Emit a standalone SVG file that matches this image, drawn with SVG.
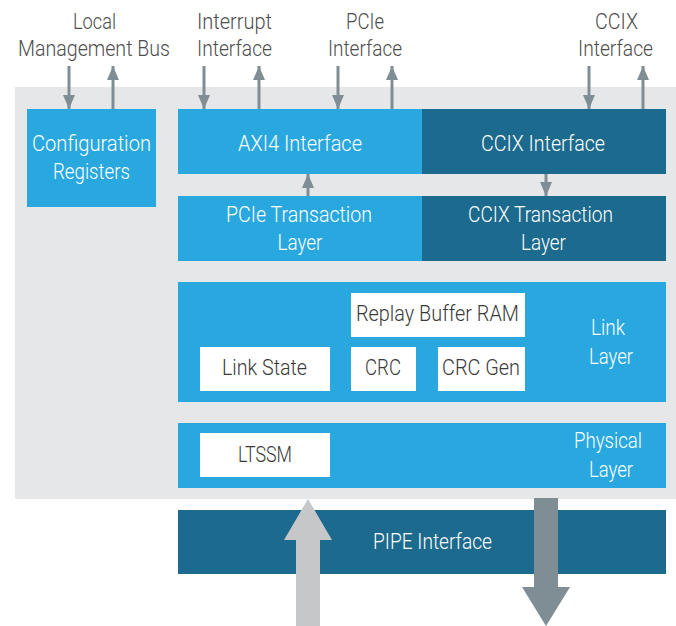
<svg xmlns="http://www.w3.org/2000/svg" width="676" height="626" viewBox="0 0 676 626">
<defs>
<marker id="ah" viewBox="0 0 14 12" refX="14" refY="6" markerWidth="14" markerHeight="12" markerUnits="userSpaceOnUse" orient="auto">
<path d="M0,0 L14,6 L0,12 Z" fill="#7f8e95"/>
</marker>
</defs>
<style>
text{font-family:Roboto,"Liberation Sans",sans-serif;font-size:22px;font-weight:300;text-anchor:middle}
.lbl{fill:#4d4d4d}
.w{fill:#ffffff}
.d{fill:#3a3a3a}
.lb{fill:#29a8e0}
.db{fill:#1c6a8e}
.wb{fill:#ffffff}
.c line{stroke:#7f8e95;stroke-width:3;marker-end:url(#ah)}
</style>
<rect x="15" y="87" width="661" height="412" fill="#e6e7e8"/>
<g id="labels">
<text class="lbl" x="94.5" y="29" textLength="43" lengthAdjust="spacingAndGlyphs">Local</text>
<text class="lbl" x="94" y="56" textLength="152" lengthAdjust="spacingAndGlyphs">Management Bus</text>
<text class="lbl" x="234.5" y="29" textLength="75" lengthAdjust="spacingAndGlyphs">Interrupt</text>
<text class="lbl" x="234.5" y="56" textLength="75" lengthAdjust="spacingAndGlyphs">Interface</text>
<text class="lbl" x="365" y="29" textLength="38" lengthAdjust="spacingAndGlyphs">PCIe</text>
<text class="lbl" x="365" y="56" textLength="74" lengthAdjust="spacingAndGlyphs">Interface</text>
<text class="lbl" x="616.5" y="29" textLength="43" lengthAdjust="spacingAndGlyphs">CCIX</text>
<text class="lbl" x="615.5" y="56" textLength="75" lengthAdjust="spacingAndGlyphs">Interface</text>
</g>
<g id="config">
<rect class="lb" x="27" y="109" width="129" height="98"/>
<text class="w" x="91.5" y="151" textLength="119" lengthAdjust="spacingAndGlyphs">Configuration</text>
<text class="w" x="91.5" y="179" textLength="77" lengthAdjust="spacingAndGlyphs">Registers</text>
</g>
<g id="axi4">
<rect class="lb" x="178" y="109" width="244" height="65"/>
<text class="w" x="300" y="151" textLength="124" lengthAdjust="spacingAndGlyphs">AXI4 Interface</text>
</g>
<g id="ccix">
<rect class="db" x="422" y="109" width="244" height="65"/>
<text class="w" x="543" y="151" textLength="124" lengthAdjust="spacingAndGlyphs">CCIX Interface</text>
</g>
<g id="pcie-tl">
<rect class="lb" x="178" y="196" width="244" height="65"/>
<text class="w" x="299" y="222" textLength="146" lengthAdjust="spacingAndGlyphs">PCIe Transaction</text>
<text class="w" x="300" y="250" textLength="45" lengthAdjust="spacingAndGlyphs">Layer</text>
</g>
<g id="ccix-tl">
<rect class="db" x="422" y="196" width="244" height="65"/>
<text class="w" x="540.5" y="222" textLength="145" lengthAdjust="spacingAndGlyphs">CCIX Transaction</text>
<text class="w" x="543.5" y="250" textLength="45" lengthAdjust="spacingAndGlyphs">Layer</text>
</g>
<g id="link-layer">
<rect class="lb" x="178" y="282" width="488" height="120"/>
<text class="w" x="608" y="335" textLength="34" lengthAdjust="spacingAndGlyphs">Link</text>
<text class="w" x="611" y="364" textLength="44" lengthAdjust="spacingAndGlyphs">Layer</text>
</g>
<g id="replay">
<rect class="wb" x="351" y="293" width="174" height="44"/>
<text class="d" x="437.5" y="321" textLength="163" lengthAdjust="spacingAndGlyphs">Replay Buffer RAM</text>
</g>
<g id="link-state">
<rect class="wb" x="200" y="347" width="130" height="44"/>
<text class="d" x="264.5" y="375" textLength="85" lengthAdjust="spacingAndGlyphs">Link State</text>
</g>
<g id="crc">
<rect class="wb" x="351" y="347" width="65" height="44"/>
<text class="d" x="383" y="375" textLength="36" lengthAdjust="spacingAndGlyphs">CRC</text>
</g>
<g id="crc-gen">
<rect class="wb" x="438" y="347" width="87" height="44"/>
<text class="d" x="481" y="375" textLength="78" lengthAdjust="spacingAndGlyphs">CRC Gen</text>
</g>
<g id="physical">
<rect class="lb" x="178" y="423" width="488" height="65"/>
<text class="w" x="608" y="448" textLength="68" lengthAdjust="spacingAndGlyphs">Physical</text>
<text class="w" x="611" y="477" textLength="44" lengthAdjust="spacingAndGlyphs">Layer</text>
</g>
<g id="ltssm">
<rect class="wb" x="200" y="433" width="130" height="44"/>
<text class="d" x="265" y="462" textLength="54" lengthAdjust="spacingAndGlyphs">LTSSM</text>
</g>
<g id="pipe">
<rect class="db" x="178" y="510" width="488" height="64"/>
<text class="w" x="432.5" y="549" textLength="119" lengthAdjust="spacingAndGlyphs">PIPE Interface</text>
</g>
<g id="connectors" class="c">
<line x1="69" y1="66" x2="69" y2="109"/>
<line x1="113" y1="109" x2="113" y2="66"/>
<line x1="204" y1="66" x2="204" y2="109"/>
<line x1="259" y1="109" x2="259" y2="66"/>
<line x1="338" y1="66" x2="338" y2="109"/>
<line x1="392" y1="109" x2="392" y2="66"/>
<line x1="589" y1="66" x2="589" y2="109"/>
<line x1="643" y1="109" x2="643" y2="66"/>
<line x1="308" y1="196" x2="308" y2="174"/>
<line x1="546" y1="174" x2="546" y2="196"/>
<path d="M296,626 L296,540 L284,540 L308,499 L332,540 L320,540 L320,626 Z" fill="#c5c7c9"/>
<path d="M534,498 L558,498 L558,587 L570,587 L546,626 L522,587 L534,587 Z" fill="#7f8e95"/>
</g>
</svg>
